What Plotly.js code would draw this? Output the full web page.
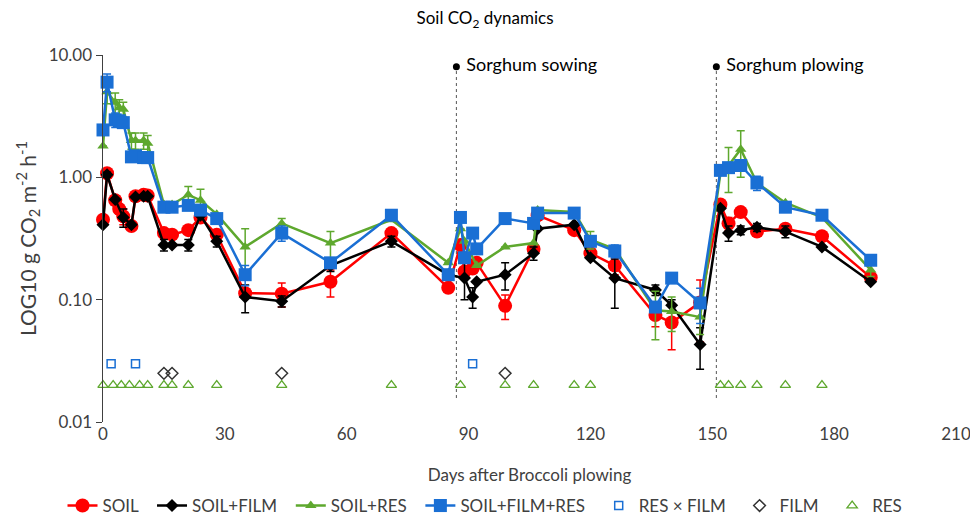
<!DOCTYPE html>
<html>
<head>
<meta charset="utf-8">
<script src="https://cdn.plot.ly/plotly-3.0.1.min.js"></script>
<style>html,body{margin:0;padding:0;background:#fff;}#chart{width:970px;height:524px;}</style>
</head>
<body>
<div id="chart"></div>
<script>
// ---- data ----
const days = [0,1,3,4,5,7,8,10,11,15,17,21,24,28,35,44,56,71,85,88,89,91,92,99,106,107,116,120,126,136,140,147,152,154,157,161,168,177,189];

const soil = [0.45,1.08,0.65,0.55,0.48,0.40,0.70,0.72,0.71,0.35,0.34,0.37,0.47,0.34,0.113,0.112,0.14,0.35,0.125,0.28,0.17,0.18,0.20,0.089,0.26,0.49,0.37,0.24,0.19,0.075,0.065,0.095,0.60,0.42,0.52,0.36,0.38,0.33,0.152];
const soilErr = [0,0,0.04,0.05,0.07,0.03,0,0,0,0,0,0,0,0.03,0.01,0.025,0.035,0.03,0.01,0,0,0,0,0.02,0,0.04,0,0,0.03,0.015,0.026,0.05,0,0.05,0,0,0,0,0];

const soilFilm = [0.41,1.05,0.66,null,0.47,0.41,0.69,0.70,0.70,0.28,0.28,0.28,0.49,0.30,0.105,0.097,0.19,0.30,0.16,null,0.15,0.105,0.14,0.16,0.24,0.38,0.41,0.22,0.15,0.12,0.09,0.043,0.56,0.35,0.37,0.39,0.36,0.27,0.14];
const soilFilmErr = [0,0.05,0,0,0.08,0,0,0,0,0.03,0,0.03,0,0.03,0.027,0.01,0.02,0.03,0,0,0.05,0.02,0,0.04,0.03,0,0,0,0.065,0.012,0.01,0.016,0,0.05,0.03,0.03,0.04,0,0];

const soilRes = [1.8,5.0,4.1,3.7,3.6,2.0,2.0,2.0,1.9,0.6,0.6,0.72,0.65,0.5,0.27,0.42,0.29,0.45,0.2,0.38,0.30,null,0.19,0.27,0.29,0.54,0.52,0.31,0.26,0.082,0.08,0.072,1.08,1.25,1.7,0.9,0.62,0.47,0.175];
const soilResErr = [0,1.0,0.8,0.6,0.5,0.3,0.3,0.3,0.3,0,0,0.12,0.15,0,0.11,0.04,0.07,0,0,0,0,0,0,0,0,0,0,0.05,0,0.035,0.025,0.02,0,0.5,0.7,0,0,0,0.02];

const soilFilmRes = [2.44,6.0,2.95,2.9,2.8,1.47,1.5,1.45,1.45,0.57,0.57,0.59,0.54,0.46,0.16,0.35,0.2,0.49,0.16,0.47,0.22,0.35,0.26,0.46,0.42,0.51,0.51,0.30,0.25,0.087,0.15,0.094,1.14,1.2,1.25,0.9,0.57,0.49,0.21];
const soilFilmResErr = [0,1.0,0.4,0,0,0,0,0,0,0,0,0,0,0,0.03,0.05,0,0,0,0,0,0,0,0,0,0,0.03,0,0.03,0,0,0.03,0,0,0,0.12,0,0,0];

// significance markers
const resFilmDays = [2,8,91];
const resFilmLevel = [0.030,0.030,0.030];
const filmDays = [15,17,44,99];
const filmLevel = [0.025,0.025,0.025,0.025];
const resDays = [0,2.5,4.5,6.5,9,11,15,17,21,28,44,71,88,99,106,116,120,152,154,157,161,168,177];
const resLevel = resDays.map(() => 0.020);

// events
const eventDays = [87,151];
const eventLabels = ['Sorghum sowing','Sorghum plowing'];
const eventTop = 8;
const eventBottom = 0.0157;

const legendNames = ['SOIL','SOIL+FILM','SOIL+RES','SOIL+FILM+RES','RES × FILM','FILM','RES'];

const RED='#FF0000', BLACK='#000000', GREEN='#5EA82E', BLUE='#1A6FD4';
const PAD = '&nbsp;&nbsp;';

function mainTrace(name, y, err, color, symbol, size){
  return {
    type:'scatter', mode:'lines+markers', name:name+PAD, x:days, y:y,
    connectgaps:true, cliponaxis:false,
    line:{color:color, width:2.5},
    marker:{color:color, symbol:symbol, size:size, line:{width:0}},
    error_y:{type:'data', array:err, visible:true, color:color, thickness:1.5, width:4}
  };
}

const evX = [], evY = [];
eventDays.forEach(d => { evX.push(d, d, null); evY.push(eventBottom, eventTop, null); });

const data = [
  {type:'scatter', mode:'lines', x:evX, y:evY, showlegend:false, hoverinfo:'skip',
   line:{color:'#555555', width:1, dash:'dot'}},
  {type:'scatter', mode:'markers+text', x:eventDays, y:eventDays.map(()=>eventTop), showlegend:false,
   text:eventLabels.map(t=>' '+t), textposition:'middle right', cliponaxis:false,
   textfont:{size:18, color:'#000'}, marker:{color:'#000', size:7, symbol:'circle'}},
  mainTrace(legendNames[0], soil, soilErr, RED, 'circle', 14),
  mainTrace(legendNames[1], soilFilm, soilFilmErr, BLACK, 'diamond', 10),
  mainTrace(legendNames[2], soilRes, soilResErr, GREEN, 'triangle-up', 10),
  mainTrace(legendNames[3], soilFilmRes, soilFilmResErr, BLUE, 'square', 13),
  {type:'scatter', mode:'markers', name:legendNames[4]+PAD, x:resFilmDays, y:resFilmLevel, cliponaxis:false,
   marker:{symbol:'square-open', color:BLUE, size:8, line:{width:1.5}}},
  {type:'scatter', mode:'markers', name:legendNames[5]+PAD, x:filmDays, y:filmLevel, cliponaxis:false,
   marker:{symbol:'diamond-open', color:'#333333', size:9, line:{width:1.5}}},
  {type:'scatter', mode:'markers', name:legendNames[6], x:resDays, y:resLevel, cliponaxis:false,
   marker:{symbol:'triangle-up-open', color:GREEN, size:9, line:{width:1.3}}}
];

const FONT = 'Lato, "Open Sans", sans-serif';
const layout = {
  width:970, height:524,
  margin:{l:103, r:14, t:55, b:102},
  paper_bgcolor:'#fff', plot_bgcolor:'#fff',
  font:{family:FONT, size:17, color:'#404040'},
  title:{text:'Soil CO<sub>2</sub> dynamics', x:0.5, xref:'container', xanchor:'center',
         y:1-18/524, yref:'container', yanchor:'middle', font:{size:17, color:'#000'}},
  xaxis:{range:[0,210], tickvals:[0,30,60,90,120,150,180,210], showgrid:false, zeroline:false,
         showline:false, ticks:'', tickfont:{size:17, color:'#404040'}, ticklabeloverflow:'allow',
         title:{text:'Days after Broccoli plowing', standoff:26, font:{size:17, color:'#404040'}}},
  yaxis:{type:'log', range:[-2,1], tickvals:[0.01,0.1,1,10], ticktext:['0.01','0.10','1.00','10.00'],
         showgrid:false, zeroline:false, showline:true, linecolor:'#404040', linewidth:1.5,
         ticks:'outside', ticklen:6, tickcolor:'#404040', tickfont:{size:17, color:'#404040'},
         title:{text:'LOG10 g CO<sub>2</sub> m<sup>-2</sup> h<sup>-1</sup>', standoff:6, font:{size:21, color:'#404040'}}},
  legend:{orientation:'h', x:0.5, xref:'container', xanchor:'center', y:1-506/524, yref:'container',
          yanchor:'middle', font:{size:17, color:'#404040'}, itemwidth:30, traceorder:'normal'},
  showlegend:true
};

Plotly.newPlot('chart', data, layout, {displayModeBar:false, staticPlot:true});
</script>
</body>
</html>
